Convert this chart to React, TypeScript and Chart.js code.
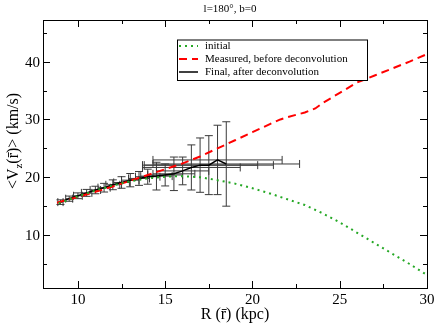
import React, { useEffect, useRef } from "react";
import { Chart, registerables } from "chart.js";

Chart.register(...registerables);

// ---- data ----
const initialR = [8.9, 10, 11, 12, 13, 14, 15, 16, 17, 18, 19, 20, 21, 22, 23, 24, 25, 26, 27, 28, 29, 30];
const initialV = [15.5, 16.7, 17.7, 18.6, 19.3, 19.8, 20.1, 20.2, 20.0, 19.5, 18.9, 18.1, 17.2, 16.2, 15.2, 13.8, 12.2, 10.4, 8.6, 6.8, 5.0, 3.1];

const measuredR = [8.8, 10, 11, 12, 13, 14, 15, 16, 17, 18, 19, 20, 21, 21.6, 22, 23, 23.6, 24, 25, 26, 27, 28, 29, 30];
const measuredV = [15.6, 16.6, 17.5, 18.4, 19.4, 20.4, 21.4, 22.4, 23.6, 25.0, 26.4, 27.8, 29.2, 30.0, 30.4, 31.2, 31.9, 32.8, 34.6, 36.4, 37.6, 38.8, 40.0, 41.3];

const finalR = [9, 9.5, 10, 10.5, 11, 11.5, 12, 12.5, 13, 13.5, 14, 14.5, 15, 15.5, 16, 16.5, 17, 17.5, 18, 18.5];
const finalV = [15.7, 16.3, 16.8, 17.3, 17.8, 18.2, 18.7, 19.1, 19.5, 19.8, 20.1, 20.2, 20.4, 20.6, 21.1, 21.7, 22.1, 22.1, 23.0, 22.3];
const finalErrV = [0.4, 0.45, 0.5, 0.6, 0.65, 0.75, 0.85, 1.0, 1.15, 1.2, 1.3, 2.4, 1.9, 2.9, 2.4, 3.9, 4.7, 5.1, 6.0, 7.3];
const finalErrR = [0.15, 0.2, 0.25, 0.3, 0.3, 0.35, 0.4, 0.45, 0.5, 0.6, 0.7, 0.9, 1.0, 1.2, 1.5, 2.8, 3.3, 3.7, 3.7, 4.2];

const xMajorTicks = [10, 15, 20, 25, 30];
const xMinorTicks = [12.5, 17.5, 22.5, 27.5];
const yMajorTicks = [10, 20, 30, 40];
const yMinorTicks = [5, 15, 25, 35, 45];

const titleText = "l=180°, b=0";
const xTitleText = "R (r\u0304) (kpc)";
const yTitleParts = ["<V", "z", "(r\u0304)> (km/s)"];
const seriesLabels = ["initial", "Measured, before deconvolution", "Final, after deconvolution"];

const SERIF = "'Liberation Serif', 'Times New Roman', serif";

const decorPlugin = {
  id: "decor",
  beforeDatasetsDraw(chart: any) {
    const ctx = chart.ctx;
    const xs = chart.scales.x;
    const ys = chart.scales.y;
    ctx.save();
    ctx.strokeStyle = "#3a3a3a";
    ctx.lineWidth = 1;
    const cap = 4;
    for (let i = 0; i < finalR.length; i++) {
      const px = xs.getPixelForValue(finalR[i]);
      const py = ys.getPixelForValue(finalV[i]);
      const yt = ys.getPixelForValue(finalV[i] + finalErrV[i]);
      const yb = ys.getPixelForValue(finalV[i] - finalErrV[i]);
      const xl = xs.getPixelForValue(finalR[i] - finalErrR[i]);
      const xr = xs.getPixelForValue(finalR[i] + finalErrR[i]);
      ctx.beginPath();
      ctx.moveTo(px, yt);
      ctx.lineTo(px, yb);
      ctx.moveTo(px - cap, yt);
      ctx.lineTo(px + cap, yt);
      ctx.moveTo(px - cap, yb);
      ctx.lineTo(px + cap, yb);
      ctx.moveTo(xl, py);
      ctx.lineTo(xr, py);
      ctx.moveTo(xl, py - cap);
      ctx.lineTo(xl, py + cap);
      ctx.moveTo(xr, py - cap);
      ctx.lineTo(xr, py + cap);
      ctx.stroke();
    }
    ctx.restore();
  },
  afterDraw(chart: any) {
    const ctx = chart.ctx;
    const xs = chart.scales.x;
    const ys = chart.scales.y;
    const a = chart.chartArea;
    ctx.save();
    // frame
    ctx.strokeStyle = "#000";
    ctx.lineWidth = 1;
    ctx.strokeRect(Math.round(a.left) + 0.5, Math.round(a.top) + 0.5, Math.round(a.right - a.left), Math.round(a.bottom - a.top));
    // ticks
    const tick = (len: number, vals: number[], axis: "x" | "y") => {
      ctx.beginPath();
      for (const v of vals) {
        if (axis === "x") {
          const p = Math.round(xs.getPixelForValue(v)) + 0.5;
          ctx.moveTo(p, a.bottom);
          ctx.lineTo(p, a.bottom - len);
          ctx.moveTo(p, a.top);
          ctx.lineTo(p, a.top + len);
        } else {
          const p = Math.round(ys.getPixelForValue(v)) + 0.5;
          ctx.moveTo(a.left, p);
          ctx.lineTo(a.left + len, p);
          ctx.moveTo(a.right, p);
          ctx.lineTo(a.right - len, p);
        }
      }
      ctx.stroke();
    };
    tick(7, xMajorTicks, "x");
    tick(4, xMinorTicks, "x");
    tick(7, yMajorTicks, "y");
    tick(4, yMinorTicks, "y");

    // tick labels
    ctx.fillStyle = "#000";
    ctx.font = `15px ${SERIF}`;
    ctx.textAlign = "center";
    ctx.textBaseline = "top";
    for (const v of xMajorTicks) {
      ctx.fillText(String(v), xs.getPixelForValue(v), a.bottom + 5);
    }
    ctx.textAlign = "right";
    ctx.textBaseline = "middle";
    for (const v of yMajorTicks) {
      ctx.fillText(String(v), a.left - 3, ys.getPixelForValue(v) + 1);
    }

    // x title
    ctx.font = `16px ${SERIF}`;
    ctx.textAlign = "center";
    ctx.textBaseline = "alphabetic";
    ctx.fillText(xTitleText, (a.left + a.right) / 2, 319);

    // y title (rotated, with subscript)
    ctx.save();
    ctx.translate(18, 141);
    ctx.rotate(-Math.PI / 2);
    const mainFont = `16px ${SERIF}`;
    const subFont = `11px ${SERIF}`;
    ctx.font = mainFont;
    const w0 = ctx.measureText(yTitleParts[0]).width;
    const w2 = ctx.measureText(yTitleParts[2]).width;
    ctx.font = subFont;
    const w1 = ctx.measureText(yTitleParts[1]).width;
    const total = w0 + w1 + w2;
    let cx = -total / 2;
    ctx.textAlign = "left";
    ctx.font = mainFont;
    ctx.fillText(yTitleParts[0], cx, 0);
    cx += w0;
    ctx.font = subFont;
    ctx.fillText(yTitleParts[1], cx, 4);
    cx += w1;
    ctx.font = mainFont;
    ctx.fillText(yTitleParts[2], cx, 0);
    ctx.restore();

    // title
    ctx.font = `11px ${SERIF}`;
    ctx.textAlign = "center";
    ctx.textBaseline = "alphabetic";
    ctx.fillText(titleText, 230, 12);

    // legend
    const lx = 177, ly = 39.5, lw = 190, lh = 40.5;
    ctx.fillStyle = "#fff";
    ctx.fillRect(lx, ly, lw, lh);
    ctx.strokeStyle = "#000";
    ctx.lineWidth = 1;
    ctx.strokeRect(lx + 0.5, ly + 0.5, lw, lh);
    const rows = [46, 59, 72];
    chart.data.datasets.forEach((ds: any, i: number) => {
      const y = rows[i];
      ctx.save();
      ctx.strokeStyle = ds.borderColor;
      ctx.lineWidth = ds.borderWidth;
      ctx.setLineDash(ds.borderDash || []);
      ctx.beginPath();
      ctx.moveTo(179, y);
      ctx.lineTo(198, y);
      ctx.stroke();
      ctx.restore();
      ctx.fillStyle = "#000";
      ctx.font = `11px ${SERIF}`;
      ctx.textAlign = "left";
      ctx.textBaseline = "middle";
      ctx.fillText(ds.label, 205, y);
    });
    ctx.restore();
  },
};

export default function App() {
  const ref = useRef<HTMLCanvasElement | null>(null);
  useEffect(() => {
    document.body.style.margin = "0";
    const canvas = ref.current;
    if (!canvas) return;
    const toPts = (xs: number[], ys: number[]) => xs.map((x, i) => ({ x, y: ys[i] }));
    const chart = new Chart(canvas, {
      type: "line",
      data: {
        datasets: [
          {
            label: seriesLabels[0],
            data: toPts(initialR, initialV),
            borderColor: "#25a825",
            borderWidth: 2,
            borderDash: [2, 4],
            pointRadius: 0,
            fill: false,
            tension: 0,
          },
          {
            label: seriesLabels[1],
            data: toPts(measuredR, measuredV),
            borderColor: "#ff0000",
            borderWidth: 2,
            borderDash: [8, 5],
            pointRadius: 0,
            fill: false,
            tension: 0,
          },
          {
            label: seriesLabels[2],
            data: toPts(finalR, finalV),
            borderColor: "#000000",
            borderWidth: 1.5,
            pointRadius: 0,
            fill: false,
            tension: 0,
          },
        ],
      },
      options: {
        responsive: false,
        animation: false,
        layout: { padding: { left: 43, right: 9, top: 20, bottom: 38 } },
        scales: {
          x: { type: "linear", min: 8, max: 30, display: false },
          y: { type: "linear", min: 0.85, max: 47.2, display: false },
        },
        plugins: {
          legend: { display: false },
          tooltip: { enabled: false },
          title: { display: false },
        },
      },
      plugins: [decorPlugin],
    } as any);
    return () => chart.destroy();
  }, []);
  return <canvas ref={ref} width={436} height={326} style={{ display: "block" }} />;
}
